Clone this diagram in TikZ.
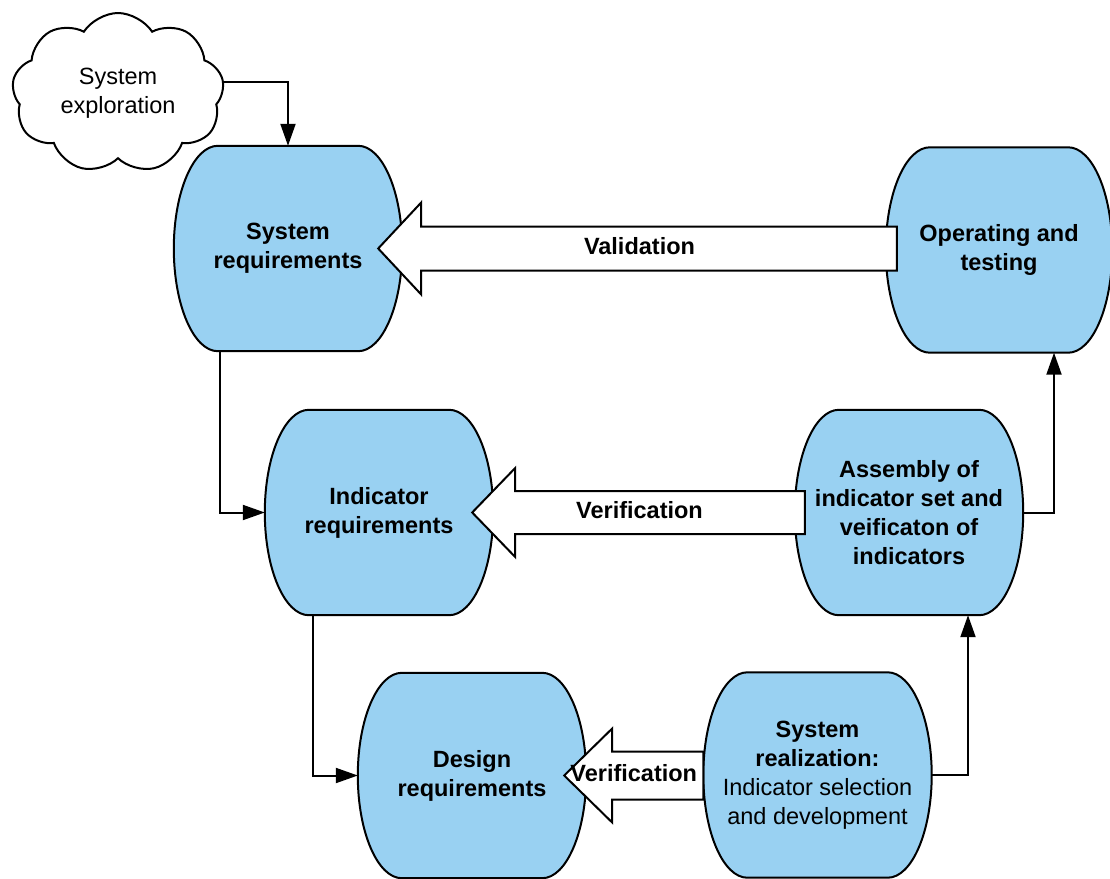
\documentclass[tikz,border=0pt]{standalone}
\usepackage{fontspec}
\setmainfont{Liberation Sans}
\usetikzlibrary{arrows.meta,positioning,shapes.symbols,calc,backgrounds}
\definecolor{stageblue}{RGB}{153,209,242}

\tikzset{
  stage/.style={minimum width=228pt,minimum height=205pt,inner sep=0pt,align=center,
    font=\bfseries\fontsize{23.5}{29}\selectfont},
  outline/.style={line width=2pt,draw=black,fill=stageblue},
  flow/.style={line width=2pt,-{Triangle[length=22pt,width=15pt]}},
  bigarrow/.style={line width=2pt,draw=black,fill=white,line join=miter},
  lbl/.style={font=\bfseries\fontsize{23.5}{29}\selectfont,inner sep=0pt}
}

% barrel outline round a stage node
\newcommand{\barrel}[1]{%
  \draw[outline] ([xshift=44pt]#1.north west) -- ([xshift=-44pt]#1.north east)
    .. controls ([xshift=-20pt]#1.north east) and ([yshift=57pt]#1.east) .. (#1.east)
    .. controls ([yshift=-57pt]#1.east) and ([xshift=-20pt]#1.south east) .. ([xshift=-44pt]#1.south east)
    -- ([xshift=44pt]#1.south west)
    .. controls ([xshift=20pt]#1.south west) and ([yshift=-57pt]#1.west) .. (#1.west)
    .. controls ([yshift=57pt]#1.west) and ([xshift=20pt]#1.north west) .. cycle;}

% hollow block arrow: tip, tail, head length, head half width, shaft half width
\newcommand{\blockarrow}[5]{%
  \draw[bigarrow] (#1) -- ([xshift=#3,yshift=#4]#1) -- ([xshift=#3,yshift=#5]#1)
    -- ([yshift=#5]#2) -- ([yshift=-#5]#2) -- ([xshift=#3,yshift=-#5]#1)
    -- ([xshift=#3,yshift=-#4]#1) -- cycle;}

\begin{document}
\begin{tikzpicture}[x=1pt,y=-1pt]
  \useasboundingbox (0,0) rectangle (1110,878);

  % stages
  \node[stage] (sysreq) at (288,248.5) {System\\requirements};
  \node[stage,minimum width=226pt] (optest) at (999,250) {Operating and\\testing};
  \node[stage] (indreq) at (379,512.5) {Indicator\\requirements};
  \node[stage] (assembly) at (909,512.5) {Assembly of\\indicator set and\\veificaton of\\indicators};
  \node[stage] (desreq) at (472,775.5) {Design\\requirements};
  \node[stage] (realize) at (817.5,775) {System\\realization:\\\textmd{Indicator selection}\\\textmd{and development}};

  \begin{scope}[on background layer]
    \foreach \n in {sysreq,optest,indreq,assembly,desreq,realize}
      \barrel{\n};
  \end{scope}

  % block arrows back to the left
  \coordinate (vtip) at ([xshift=-24pt]sysreq.east);
  \coordinate (vtail) at ($(sysreq.east -| optest.west)+(11,0)$);
  \blockarrow{vtip}{vtail}{43pt}{46pt}{22pt}
  \node[lbl] (valid) at ($(vtip)!0.5!(vtail)+(2,-2)$) {Validation};

  \coordinate (mtip) at ([xshift=-21pt]indreq.east);
  \coordinate (mtail) at ($(indreq.east -| assembly.west)+(10,0)$);
  \blockarrow{mtip}{mtail}{43pt}{44.5pt}{21.5pt}
  \node[lbl] (verifmid) at ($(mtip)!0.5!(mtail)+(1,-2)$) {Verification};

  \coordinate (btip) at ([xshift=-22pt]desreq.east);
  \coordinate (btail) at (desreq.east -| realize.west);
  \blockarrow{btip}{btail}{48pt}{47pt}{24pt}
  \node[lbl] (verifbot) at ($(btip)!0.5!(btail)+(0,-2)$) {Verification};

  % exploration cloud
  \node[cloud,draw,fill=white,line width=2pt,cloud puffs=9,cloud puff arc=115,aspect=1.35,
    minimum width=212pt,minimum height=160pt,inner sep=0pt,align=center,
    font=\fontsize{23.5}{29}\selectfont] (explore) at (118,93) {System\\exploration};

  % connectors
  \draw[flow] ([yshift=11pt]explore.east) -| (sysreq.north);
  \draw[flow] ([xshift=46pt]sysreq.south west) |- (indreq.west);
  \draw[flow] ([xshift=48pt]indreq.south west) |- (desreq.west);
  \draw[flow] (realize.east) -| ([xshift=59pt]assembly.south);
  \draw[flow] (assembly.east) -| ([xshift=55pt]optest.south);
\end{tikzpicture}
\end{document}
